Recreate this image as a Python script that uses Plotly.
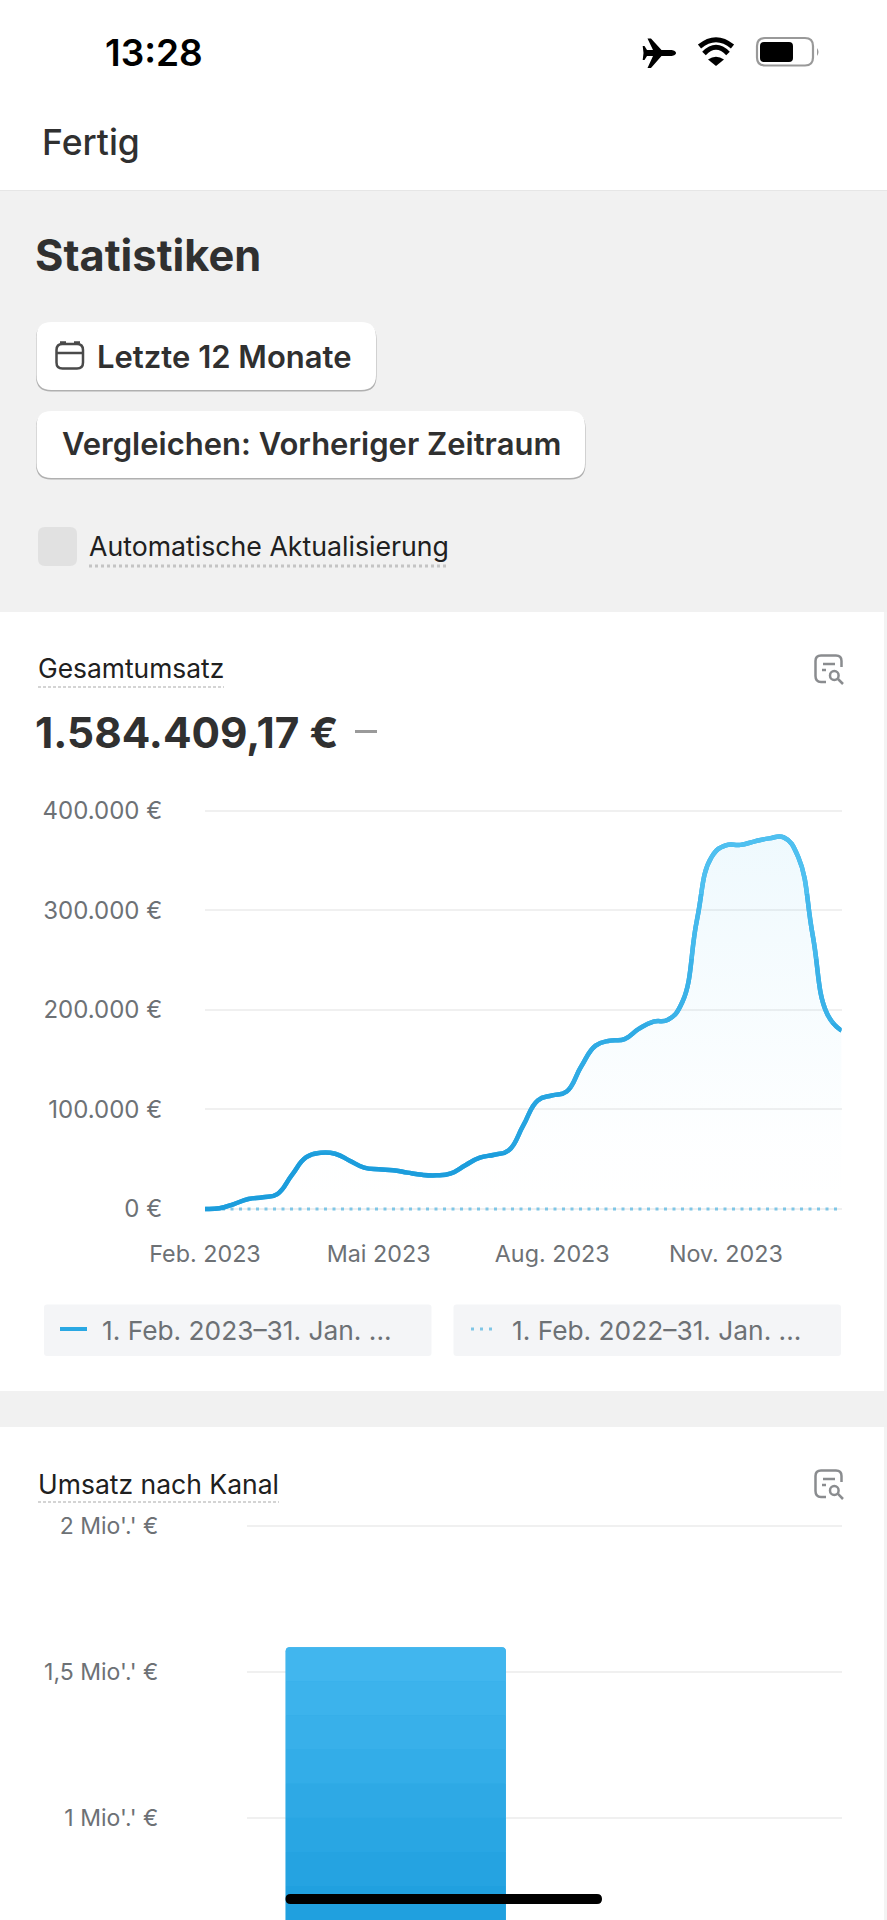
import re
import plotly.graph_objects as go

W, H = 887, 1920

# data: the curve, read every quarter month (0 = Feb. 2023, 11 = Jan. 2024)
monat_pos = [0, 0.25, 0.5, 0.75, 1, 1.25, 1.5, 1.75, 2, 2.25, 2.5, 2.75, 3, 3.25, 3.5, 3.75, 4, 4.25, 4.5, 4.75, 5, 5.25,
             5.5, 5.75, 6, 6.25, 6.5, 6.75, 7, 7.25, 7.5, 7.75, 8, 8.25, 8.5, 8.75, 9, 9.25, 9.5, 9.75, 10, 10.25, 10.5, 10.75, 11]
umsatz = [0, 700, 5000, 10000, 11700, 15000, 34000, 52000, 56500, 55500, 48500, 41500, 39800, 39000, 36500, 34300, 33800, 35800,
          44000, 51500, 54500, 59000, 84000, 109000, 114000, 118000, 143000, 164000, 169000, 170500, 181000, 188000, 190000,
          208000, 290000, 353000, 365000, 365500, 369000, 372000, 373000, 353500, 275000, 196000, 179000]
vorher_pos = [0, 11]
umsatz_vorher = [0, 0]
x_ticks = [0, 3, 6, 9]
x_labels = ["Feb. 2023", "Mai 2023", "Aug. 2023", "Nov. 2023"]
y_ticks = [0, 100000, 200000, 300000, 400000]
y_labels = ["0 €", "100.000 €", "200.000 €", "300.000 €", "400.000 €"]

kanaele = ["Online-Shop", "Andere"]
kanal_umsatz = [1584409.17, 0]
kanal_ticks = [1000000, 1500000, 2000000]
kanal_labels = ["1 Mio'.' €", "1,5 Mio'.' €", "2 Mio'.' €"]

INK = "#303030"
GREY = "#6d7175"
GRID = "#f0f0f0"


def P(d):
    # path in page pixels -> paper coords
    toks = re.findall(r"[A-Za-z]|-?\d+\.?\d*", d)
    out, i = [], 0
    for t in toks:
        if t.isalpha():
            out.append(t)
        else:
            out.append(f"{float(t)/W:.5f}" if i % 2 == 0 else f"{1-float(t)/H:.5f}")
            i += 1
    return " ".join(out)


def rr(x0, y0, x1, y1, r):
    return (f"M{x0+r} {y0} L{x1-r} {y0} Q{x1} {y0} {x1} {y0+r} L{x1} {y1-r} Q{x1} {y1} {x1-r} {y1} "
            f"L{x0+r} {y1} Q{x0} {y1} {x0} {y1-r} L{x0} {y0+r} Q{x0} {y0} {x0+r} {y0} Z")


shapes = []
notes = []


def path(d, fill=None, line=None, width=0, layer="below"):
    s = dict(type="path", xref="paper", yref="paper", path=P(d), layer=layer, line=dict(width=width))
    if fill:
        s["fillcolor"] = fill
    if line:
        s["line"]["color"] = line
    shapes.append(s)


def rect(x0, y0, x1, y1, fill, r=0, layer="below"):
    if r:
        path(rr(x0, y0, x1, y1, r), fill=fill, layer=layer)
    else:
        shapes.append(dict(type="rect", xref="paper", yref="paper", x0=x0/W, x1=x1/W, y0=1-y0/H, y1=1-y1/H,
                           fillcolor=fill, line=dict(width=0), layer=layer))


def hline(x0, x1, y, color, width=1.5, dash="solid"):
    shapes.append(dict(type="line", xref="paper", yref="paper", x0=x0/W, x1=x1/W, y0=1-y/H, y1=1-y/H,
                       line=dict(color=color, width=width, dash=dash), layer="below"))


def text(x, y, s, size, color=INK, weight=400, anchor="left"):
    notes.append(dict(xref="paper", yref="paper", x=x/W, y=1-y/H, text=s, showarrow=False,
                      xanchor=anchor, yanchor="middle", borderpad=0,
                      font=dict(family="Inter", size=size, color=color, weight=weight)))


def report_icon(dy):
    c = "#8a8c8f"
    path(f"M826 {682+dy} L821 {682+dy} Q815.5 {682+dy} 815.5 {676+dy} L815.5 {661+dy} Q815.5 {655.5+dy} 821 {655.5+dy} "
         f"L836 {655.5+dy} Q841.5 {655.5+dy} 841.5 {661+dy} L841.5 {667+dy}", line=c, width=2.5)
    hline(823, 835, 664+dy, c, 2.5)
    hline(822, 826, 670+dy, c, 2.5)
    shapes.append(dict(type="circle", xref="paper", yref="paper", x0=830/W, x1=838.6/W, y0=1-(671+dy)/H, y1=1-(680+dy)/H,
                       line=dict(color=c, width=2.5), layer="below"))
    path(f"M838 {679+dy} L843 {684+dy}", line=c, width=2.5)


# backgrounds
rect(0, 190, W, 612, "#f1f1f1")
rect(0, 1391, W, 1427, "#f1f1f1")
rect(884, 612, W, 1391, "#f3f3f3")
rect(884, 1427, W, H, "#f3f3f3")

# status bar
text(104, 53, "13:28", 37, "#000000", 600)
path("M676 53 C676 51 673 50 671 50 L661.5 50 L651 38.5 L647.5 38.5 L653 50 L647 50 L644.5 46 L642.7 46 "
     "L643.5 53 L642.7 60 L644.5 60 L647 56 L653 56 L647.5 68 L651 68 L661.5 56 L671 56 C673 56 676 55 676 53 Z", fill="#000000")
path("M699.5 46.5 Q716 33 732.5 46.5", line="#000000", width=5)
path("M704 53.5 Q716 41 728 53.5", line="#000000", width=5)
path("M708 59.5 Q716 54 724 59.5 L716 66 Z", fill="#000000")
path(rr(757, 38, 813, 65.5, 8), line="#999999", width=2.2)
rect(760, 42, 793, 62, "#000000", r=4)
path("M817 48 Q820 52 817 56 Z", fill="#999999")

# header
text(41, 143, "Fertig", 35.5, INK, 500)
hline(0, W, 190.5, "#e6e6e6", 1)
text(34, 255, "Statistiken", 43.4, INK, 700)
for x1, y0, y1 in [(376, 322, 390), (585, 411, 478)]:
    rect(36, y0+1.5, x1+0.5, y1+1.5, "#b0b0b0", r=15)
    rect(36.5, y0, x1, y1, "#ffffff", r=15)
path(rr(56.5, 344, 83, 368.5, 6), line="#4a4a4a", width=2.5)
hline(56.5, 83, 353, "#4a4a4a", 2.5)
hline(60, 66, 342.5, "#4a4a4a", 2.5)
hline(74, 80, 342.5, "#4a4a4a", 2.5)
text(96, 357, "Letzte 12 Monate", 31, INK, 600)
text(61, 444, "Vergleichen: Vorheriger Zeitraum", 31, INK, 600)
rect(38, 527, 77, 566, "#e1e1e1", r=7)
text(87.5, 546, "Automatische Aktualisierung", 26.7, "#202020", 400)
hline(89, 448, 566, "#c4c4c4", 3, "3px,3px")

# chart 1 texts
text(37, 668, "Gesamtumsatz", 26.4, "#202020", 400)
hline(38, 224, 687, "#c6c6c6", 1.5, "3px,2px")
report_icon(0)
text(34, 732, "1.584.409,17 €", 42.3, INK, 700)
hline(355, 377, 731.5, "#9a9a9a", 3)

# legend pills
rect(44, 1304.5, 431.5, 1356, "#f4f5f7", r=3)
rect(453.5, 1304.5, 841, 1356, "#f4f5f7", r=3)
hline(60, 87, 1329, "#2aa8e3", 4)
hline(471, 497, 1329, "#7fc6e6", 3, "3px,6px")
text(101, 1330, "1. Feb. 2023–31. Jan. ...", 26.3, GREY)
text(511, 1330, "1. Feb. 2022–31. Jan. ...", 26.3, GREY)

# chart 2 texts
text(37, 1484, "Umsatz nach Kanal", 26.5, "#202020", 400)
hline(38, 279, 1502, "#c6c6c6", 1.5, "3px,2px")
report_icon(815)

# home indicator
rect(285.5, 1894, 602, 1904, "#000000", r=5, layer="above")

fig = go.Figure()

# chart 1 scale: 0 at y=1209, 99.625 px per 100000
C1_TOP, C1_BOT = 800, 1217


def v1(py):
    return (1209 - py) / 99.625 * 100000


def mix(c0, c1, t):
    return "rgb(%d,%d,%d)" % tuple(round(a + (b - a) * t) for a, b in zip(c0, c1))


fig.add_trace(go.Scatter(x=vorher_pos, y=umsatz_vorher, mode="lines", yaxis="y", xaxis="x", hoverinfo="skip",
                         line=dict(color="#7fc6e6", width=3, dash="3px,5.5px")))
fig.add_trace(go.Scatter(x=monat_pos, y=umsatz, mode="lines", yaxis="y", xaxis="x", fill="tozeroy",
                         line=dict(color="#2aa8e3", width=4.5, shape="spline", smoothing=1.3),
                         fillgradient=dict(type="vertical", start=0, stop=372000,
                                           colorscale=[[0, "rgba(79,192,240,0)"], [0.2, "rgba(79,192,240,0.01)"], [1, "rgba(79,192,240,0.09)"]])))

layout_axes = {}
n_line = 6
step = (1217 - 830) / n_line
for i in range(n_line):
    top = 830 + i * step if i else C1_TOP
    bot = 830 + (i + 1) * step
    n = 3 + i
    t = i / (n_line - 1)
    fig.add_trace(go.Scatter(x=monat_pos, y=umsatz, mode="lines", xaxis="x", yaxis=f"y{n}", hoverinfo="skip",
                             line=dict(color=mix((79, 192, 240), (28, 157, 220), t), width=4.5, shape="spline", smoothing=1.3)))
    layout_axes[f"yaxis{n}"] = dict(domain=[1-bot/H, 1-top/H], range=[v1(bot), v1(top)], visible=False, anchor="x", fixedrange=True)

# chart 2 scale: 2 Mio at y=1526, 146 px per 500000
C2_TOP, C2_BOT = 1520, H


def v2(py):
    return 2000000 - (py - 1526) / 146 * 500000


fig.add_trace(go.Bar(x=kanaele, y=kanal_umsatz, xaxis="x2", yaxis="y2", width=0.74, marker=dict(color="#30abe7", line=dict(width=0))))
n_bar = 8
step = (H - 1647) / n_bar
for i in range(n_bar):
    top = 1647 + i * step if i else C2_TOP
    bot = 1647 + (i + 1) * step
    n = 3 + n_line + i
    fig.add_trace(go.Bar(x=kanaele, y=kanal_umsatz, xaxis="x2", yaxis=f"y{n}", width=0.74, hoverinfo="skip",
                         marker=dict(color=mix((65, 182, 238), (32, 160, 223), i / (n_bar - 1)), line=dict(width=0))))
    layout_axes[f"yaxis{n}"] = dict(domain=[1-bot/H, 1-top/H], range=[v2(bot), v2(top)], visible=False, anchor="x2", fixedrange=True)

fig.update_layout(
    width=W, height=H, margin=dict(l=0, r=0, t=0, b=0, autoexpand=False), autosize=False,
    paper_bgcolor="#ffffff", plot_bgcolor="rgba(0,0,0,0)", showlegend=False,
    barmode="overlay", barcornerradius=4,
    font=dict(family="Inter", color=GREY),
    shapes=shapes, annotations=notes,
    xaxis=dict(domain=[205/W, 841.6/W], range=[0, 11],
               tickmode="array", tickvals=x_ticks, ticktext=x_labels, showgrid=False, zeroline=False, showline=False,
               ticks="outside", ticklen=16, tickcolor="rgba(0,0,0,0)", tickfont=dict(size=23.3, color=GREY), anchor="y"),
    yaxis=dict(domain=[1-C1_BOT/H, 1-C1_TOP/H], range=[v1(C1_BOT), v1(C1_TOP)], tickmode="array",
               tickvals=y_ticks, ticktext=y_labels, showgrid=True, gridcolor=GRID, gridwidth=2, zeroline=False, showline=False,
               ticks="outside", ticklen=37, tickcolor="rgba(0,0,0,0)", tickfont=dict(size=24, color=GREY), anchor="x"),
    xaxis2=dict(domain=[247/W, 842/W], type="category", categoryorder="array", categoryarray=kanaele, range=[-0.5, 1.5],
                showticklabels=False, showgrid=False, zeroline=False, showline=False, anchor="y2"),
    yaxis2=dict(domain=[0, 1-C2_TOP/H], range=[v2(C2_BOT), v2(C2_TOP)], tickmode="array",
                tickvals=kanal_ticks, ticktext=kanal_labels, showgrid=True, gridcolor=GRID, gridwidth=2, zeroline=False, showline=False,
                ticks="outside", ticklen=83, tickcolor="rgba(0,0,0,0)", tickfont=dict(size=23, color=GREY), anchor="x2"),
    **layout_axes,
)

fig.write_html("out.html", config=dict(displayModeBar=False),
               post_script="document.body.style.margin='0';document.body.style.overflow='hidden';")
